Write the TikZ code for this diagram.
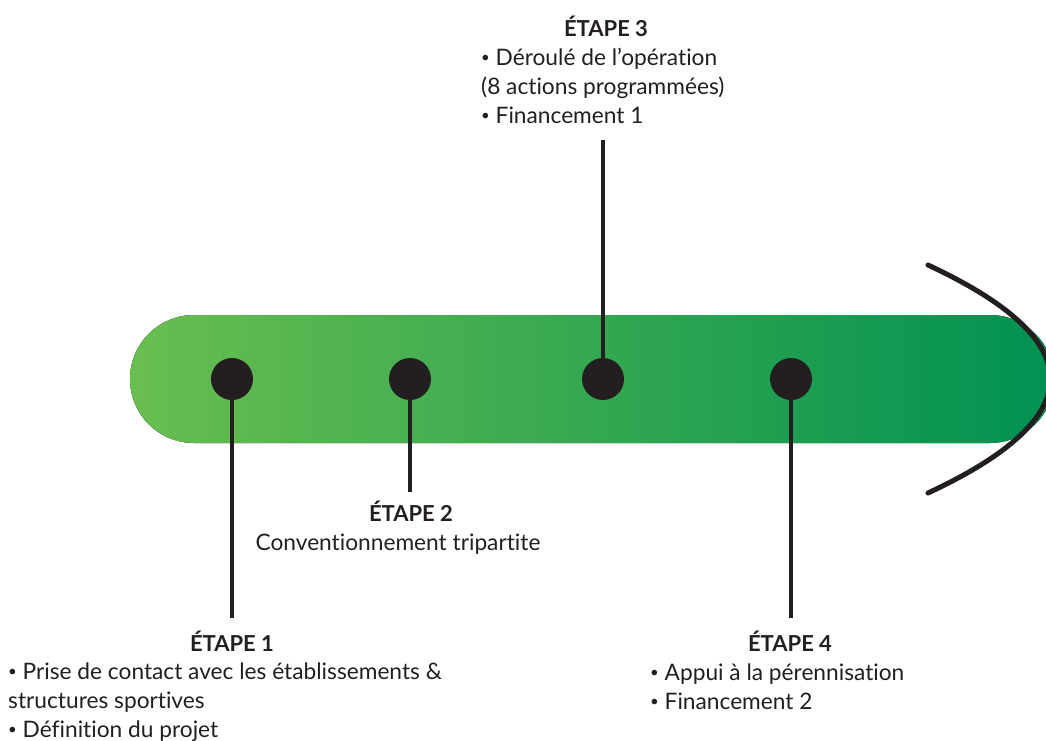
\documentclass[tikz,border=0pt]{standalone}
\usepackage{fontspec}
\setmainfont{Lato}[RawFeature=-liga]
\definecolor{inkblack}{HTML}{231F20}
\definecolor{barlight}{HTML}{69BE50}
\definecolor{bardark}{HTML}{009152}
\newcommand{\stagebullet}{\raisebox{0.12em}{\fontsize{15}{29}\selectfont•}}
\tikzset{
  stepdot/.style={circle,fill=inkblack,minimum size=42pt,inner sep=0pt},
  stem/.style={draw=inkblack,line width=4pt},
  stagetitle/.style={font=\fontsize{22}{29}\selectfont\bfseries,text=inkblack,anchor=base,inner sep=0pt},
  stagetext/.style={font=\fontsize{22.7}{29}\selectfont,text=inkblack,align=left,anchor=base west,inner sep=0pt},
}
\begin{document}
\begin{tikzpicture}[x=1pt,y=-1pt]
  \useasboundingbox (0,0) rectangle (1046,740);
  \clip (0,0) rectangle (1046,740);
  % bar and arc
  \fill[left color=barlight,right color=bardark,rounded corners=64pt] (130,315) rectangle (1054,443);
  \draw[line width=5pt,inkblack,line cap=round] (928,265) .. controls (1091,341) and (1091,417) .. (928,493);
  % stages
  \node[stepdot] (d1) at (232,379) {};
  \node[stepdot] (d2) at (410,379) {};
  \node[stepdot] (d3) at (603,379) {};
  \node[stepdot] (d4) at (791,379) {};
  \coordinate (e1) at (232,618);
  \coordinate (e2) at (410,492);
  \coordinate (e3) at (603,140);
  \coordinate (e4) at (791,618);
  \draw[stem] (d1.south) -- (e1) (d2.south) -- (e2) (d3.north) -- (e3) (d4.south) -- (e4);
  % texts (body nodes sit on their last baseline)
  \node[stagetitle] (t1) at (232,651) {ÉTAPE 1};
  \node[stagetext] (b1) at (8,737) {\stagebullet{} Prise de contact avec les établissements \&\\structures sportives\\\stagebullet{} Définition du projet};
  \node[stagetitle] (t2) at (411,521) {ÉTAPE 2};
  \node[stagetitle,font=\fontsize{22.7}{29}\selectfont] (b2) at (398,550) {Conventionnement tripartite};
  \node[stagetitle] (t3) at (606,36) {ÉTAPE 3};
  \node[stagetext] (b3) at (481,123) {\stagebullet{} Déroulé de l’opération\\(8 actions programmées)\\\stagebullet{} Financement 1};
  \node[stagetitle] (t4) at (790,651) {ÉTAPE 4};
  \node[stagetext] (b4) at (650,709) {\stagebullet{} Appui à la pérennisation\\\stagebullet{} Financement 2};
\end{tikzpicture}
\end{document}
